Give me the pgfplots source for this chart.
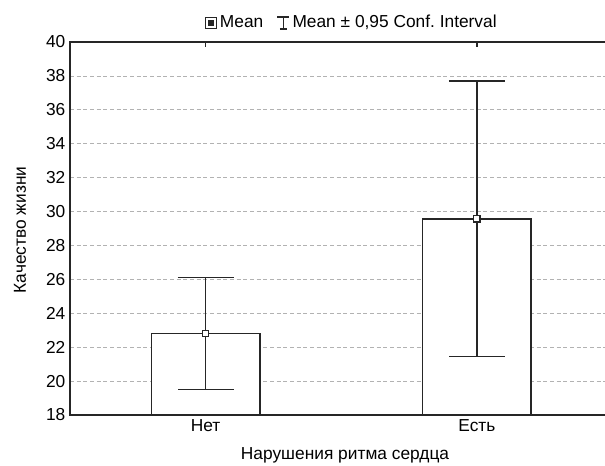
\documentclass[border=0pt]{standalone}
\usepackage{pgfplots}
\pgfplotsset{compat=1.18}
\usepackage{fontspec}
\setmainfont{Liberation Sans}
\frenchspacing

\begin{document}
\begin{tikzpicture}
\useasboundingbox (0pt,0pt) rectangle (453.75pt,349.5pt);
\begin{axis}[
  at={(52.5pt,38.25pt)}, anchor=south west,
  scale only axis, width=406.875pt, height=279.75pt,
  xmin=0.5, xmax=2.5, ymin=18, ymax=40,
  ytick={18,20,...,40},
  xtick={1,2}, xticklabels={Нет,Есть},
  font=\fontsize{13pt}{15pt}\selectfont,
  /pgf/number format/assume math mode=true,
  axis line style={line width=1.2pt, black!85},
  ymajorgrids, grid style={densely dashed, gray!60, line width=0.5pt},
  y tick style={draw=none},
  x tick style={black!85, line width=1pt},
  major tick length=4pt,
  xlabel={Нарушения ритма сердца},
  ylabel={Качество жизни},
  every axis x label/.style={at={(axis description cs:0.507,-0.107)}, anchor=center},
  every axis y label/.style={at={(axis description cs:-0.092,0.496)}, anchor=center, rotate=90},
  legend style={at={(axis description cs:0.52,1.051)}, anchor=center, draw=none, fill=none,
    legend columns=2, font=\fontsize{13pt}{15pt}\selectfont,
    nodes={text height=9.5pt, text depth=3pt},
    /tikz/every even column/.append style={column sep=8pt}},
  legend cell align=left,
]
% bars drawn from the baseline up to the group means
\addplot[ybar, bar width=0.4, bar shift=0pt, fill=white, draw=black!85, line width=1.2pt, forget plot]
  coordinates {(1,22.8) (2,29.57)};
% means with 0.95 confidence intervals
\addplot[forget plot, only marks, mark=square*, mark size=2.4pt, mark options={fill=white, draw=black!85, line width=0.9pt},
  error bars/.cd, y dir=both, y explicit,
  error bar style={line width=1.2pt, black!85},
  error mark=|, error mark options={mark size=21pt, line width=1.2pt, black!85}]
  coordinates {(1,22.8) +- (0,3.3) (2,29.57) +- (0,8.13)};
\addlegendimage{legend image code/.code={
  \draw[black!85, line width=0.9pt] (-4.2pt,-4.2pt) rectangle (4.2pt,4.2pt);
  \fill[black!85] (-2pt,-2pt) rectangle (2pt,2pt);}}
\addlegendentry{Mean}
\addlegendimage{legend image code/.code={
  \draw[black!85, line width=0.9pt] (-4.5pt,4.5pt) -- (4.5pt,4.5pt) (0,4.5pt) -- (0,-4.5pt) (-2.5pt,-4.5pt) -- (2.5pt,-4.5pt);}}
\addlegendentry{Mean ± 0,95 Conf. Interval}
\end{axis}
\end{tikzpicture}
\end{document}
